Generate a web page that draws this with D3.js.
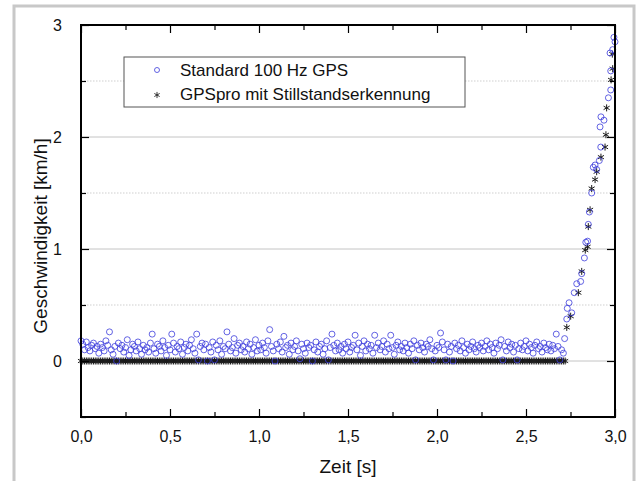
<!DOCTYPE html>
<html>
<head>
<meta charset="utf-8">
<script src="https://cdn.jsdelivr.net/npm/d3@7"></script>
<style>
  html, body { margin: 0; padding: 0; background: #fff; }
  svg { display: block; font-family: "Liberation Sans", Arial, sans-serif; }
</style>
</head>
<body>
<svg id="chart" width="641" height="481"></svg>
<script>
// ---------------- DATA ----------------
const sampleRate = 100; // Hz
const xTickValues = [0, 0.5, 1, 1.5, 2, 2.5, 3];
const xTickLabels = ["0,0", "0,5", "1,0", "1,5", "2,0", "2,5", "3,0"];
const yTickValues = [0, 1, 2, 3];
const yTickLabels = ["0", "1", "2", "3"];
const seriesNames = ["Standard 100 Hz GPS", "GPSpro mit Stillstandserkennung"];

// Standard GPS while standing still (samples at 100 Hz, t = i / 100)
const gpsStill = [
  .18,.15,.10,.17,.12,.09,.14,.16,.11,.13,
  .07,.15,.12,.09,.18,.14,.26,.10,.06,.13,
  .00,.16,.11,.14,.08,.12,.19,.05,.10,.15,
  .13,.09,.17,.11,.06,.14,.10,.12,.08,.16,
  .24,.11,.07,.15,.13,.09,.18,.12,.05,.14,
  .10,.24,.16,.08,.13,.11,.17,.06,.12,.15,
  .09,.14,.19,.11,.07,.24,.01,.13,.16,.10,
  .15,.00,.12,.08,.17,.01,.14,.10,.18,.06,
  .13,.11,.26,.15,.09,.12,.20,.07,.14,.16,
  .10,.13,.08,.17,.11,.15,.06,.12,.19,.09,
  .14,.10,.16,.12,.07,.18,.28,.13,.09,.00,
  .15,.11,.17,.08,.22,.12,.14,.06,.16,.10,
  .13,.18,.09,.02,.15,.11,.07,.16,.12,.14,
  .00,.10,.17,.08,.13,.15,.06,.11,.18,.01,
  .12,.24,.14,.09,.16,.10,.13,.07,.15,.11,
  .17,.08,.12,.14,.23,.10,.16,.05,.13,.18,
  .09,.15,.11,.14,.07,.23,.12,.16,.10,.13,
  .18,.08,.15,.11,.23,.12,.06,.14,.17,.10,
  .13,.09,.16,.12,.07,.15,.11,.18,.01,.14,
  .10,.16,.12,.08,.15,.13,.19,.11,.01,.09,
  .14,.12,.25,.17,.10,.01,.15,.08,.13,.00,
  .16,.11,.14,.09,.18,.12,.07,.15,.10,.13,
  .17,.11,.08,.14,.12,.16,.09,.13,.18,.10,
  .15,.12,.07,.16,.11,.14,.19,.01,.13,.09,
  .17,.12,.15,.08,.14,.01,.11,.16,.10,.13,
  .18,.09,.15,.12,.07,.14,.17,.11,.13,.08,
  .16,.12,.10,.15,.09,.14,.11,.24,.13,.01,
  .10,.07
];

// Standard GPS while accelerating: [time s, speed km/h]
const gpsRise = [
  [2.717,0.20],[2.729,0.375],[2.732,0.47],[2.742,0.52],[2.757,0.43],
  [2.771,0.61],[2.785,0.69],[2.807,0.71],[2.813,0.78],[2.828,0.92],
  [2.836,1.06],[2.846,1.07],[2.850,1.22],[2.856,1.33],[2.869,1.50],
  [2.878,1.73],[2.888,1.75],[2.897,1.71],[2.912,1.79],[2.920,1.91],
  [2.916,2.09],[2.921,2.18],[2.938,2.15],[2.963,2.35],[2.976,2.42],
  [2.976,2.59],[2.972,2.75],[2.987,2.78],[2.994,2.89],[3.000,2.85]
];

// GPSpro with standstill detection while standing still (t = i / 100)
const proStill = [
  0,0,0,0,0,0,0,0,0,0, 0,0,0,0,0,0,0,0,0,0, 0,0,0,0,0,0,0,0,0,0,
  0,0,0,0,0,0,0,0,0,0, 0,0,0,0,0,0,0,0,0,0, 0,0,0,0,0,0,0,0,0,0,
  0,0,0,0,0,0,0,0,0,0, 0,0,0,0,0,0,0,0,0,0, 0,0,0,0,0,0,0,0,0,0,
  0,0,0,0,0,0,0,0,0,0, 0,0,0,0,0,0,0,0,0,0, 0,0,0,0,0,0,0,0,0,0,
  0,0,0,0,0,0,0,0,0,0, 0,0,0,0,0,0,0,0,0,0, 0,0,0,0,0,0,0,0,0,0,
  0,0,0,0,0,0,0,0,0,0, 0,0,0,0,0,0,0,0,0,0, 0,0,0,0,0,0,0,0,0,0,
  0,0,0,0,0,0,0,0,0,0, 0,0,0,0,0,0,0,0,0,0, 0,0,0,0,0,0,0,0,0,0,
  0,0,0,0,0,0,0,0,0,0, 0,0,0,0,0,0,0,0,0,0, 0,0,0,0,0,0,0,0,0,0,
  0,0,0,0,0,0,0,0,0,0, 0,0,0,0,0,0,0,0,0,0, 0,0,0,0,0,0,0,0,0,0,
  0,0,0
];

// GPSpro while accelerating: [time s, speed km/h]
const proRise = [
  [2.729,0.30],[2.751,0.40],[2.794,0.61],[2.813,0.80],[2.833,0.99],
  [2.846,1.02],[2.850,1.20],[2.860,1.35],[2.869,1.54],[2.888,1.62],
  [2.897,1.69],[2.921,1.82],[2.944,1.91],[2.949,2.02],[2.953,2.26],
  [2.978,2.51],[2.987,2.61],[2.985,2.74]
];

// ---------------- CHART ----------------
(function () {
const svg = d3.select("#chart");
const W = 641, H = 481;
const plot = { left: 81, right: 615, top: 25, bottom: 417 };

svg.append("rect").attr("width", W).attr("height", H).attr("fill", "#fff");
// outer light-grey frame
svg.append("rect").attr("x", 14).attr("y", 6).attr("width", 620).attr("height", 492)
  .attr("fill", "none").attr("stroke", "#c8c8c8").attr("stroke-width", 3);

const x = d3.scaleLinear().domain([0, 3]).range([plot.left, plot.right]);
const y = d3.scaleLinear().domain([-0.5, 3]).range([plot.bottom, plot.top]);

// grid lines
const g = svg.append("g");
g.selectAll("line.major").data([0, 1, 2]).join("line").attr("class", "major")
  .attr("x1", plot.left).attr("x2", plot.right)
  .attr("y1", d => y(d)).attr("y2", d => y(d))
  .attr("stroke", "#c4c4c4").attr("stroke-width", 1);
g.selectAll("line.minor").data([0.5, 1.5, 2.5]).join("line").attr("class", "minor")
  .attr("x1", plot.left).attr("x2", plot.right)
  .attr("y1", d => y(d)).attr("y2", d => y(d))
  .attr("stroke", "#cfcfcf").attr("stroke-width", 1).attr("stroke-dasharray", "1.5,1.5");

const plotG = svg.append("g");

// GPSpro asterisks
const proPts = proStill.map((v, i) => [i / sampleRate, v]).concat(proRise);
const star = d3.symbol().type(d3.symbolAsterisk).size(34);
plotG.append("g").selectAll("path").data(proPts).join("path")
  .attr("d", star)
  .attr("transform", d => `translate(${x(d[0])},${y(d[1])})`)
  .attr("fill", "none").attr("stroke", "#1a1a1a").attr("stroke-width", 1);

// Standard GPS circles
const gpsPts = gpsStill.map((v, i) => [i / sampleRate, v]).concat(gpsRise);
plotG.append("g").selectAll("circle").data(gpsPts).join("circle")
  .attr("cx", d => x(d[0])).attr("cy", d => y(d[1])).attr("r", 3)
  .attr("fill", "none").attr("stroke", "#3c3cdc").attr("stroke-width", 0.8);

// axes
const minorX = [0.25, 0.75, 1.25, 1.75, 2.25, 2.75];
const minorY = [-0.5, 0.5, 1.5, 2.5];
svg.append("g").attr("transform", `translate(0,${plot.bottom})`)
  .call(d3.axisBottom(x).tickValues(xTickValues).tickSize(-8)
    .tickFormat((d, i) => xTickLabels[i]).tickPadding(14));
svg.append("g").attr("transform", `translate(0,${plot.bottom})`)
  .call(d3.axisBottom(x).tickValues(minorX).tickSize(-5).tickFormat(""));
svg.append("g").attr("transform", `translate(0,${plot.top})`)
  .call(d3.axisTop(x).tickValues(xTickValues).tickSize(-8).tickFormat(""));
svg.append("g").attr("transform", `translate(0,${plot.top})`)
  .call(d3.axisTop(x).tickValues(minorX).tickSize(-5).tickFormat(""));
svg.append("g").attr("transform", `translate(${plot.left},0)`)
  .call(d3.axisLeft(y).tickValues(yTickValues).tickSize(-8)
    .tickFormat((d, i) => yTickLabels[i]).tickPadding(19));
svg.append("g").attr("transform", `translate(${plot.left},0)`)
  .call(d3.axisLeft(y).tickValues(minorY).tickSize(-5).tickFormat(""));
svg.append("g").attr("transform", `translate(${plot.right},0)`)
  .call(d3.axisRight(y).tickValues(yTickValues).tickSize(-8).tickFormat(""));
svg.append("g").attr("transform", `translate(${plot.right},0)`)
  .call(d3.axisRight(y).tickValues(minorY).tickSize(-5).tickFormat(""));

svg.selectAll(".domain").remove();
svg.selectAll(".tick line").attr("stroke", "#000").attr("stroke-width", 1.2);
svg.selectAll(".tick text").attr("fill", "#111")
  .style("font-family", '"Liberation Sans", Arial, sans-serif').style("font-size", "16px");

// frame of plot
svg.append("rect").attr("x", plot.left).attr("y", plot.top)
  .attr("width", plot.right - plot.left).attr("height", plot.bottom - plot.top)
  .attr("fill", "none").attr("stroke", "#000").attr("stroke-width", 2);

// axis titles
svg.append("text").attr("x", (plot.left + plot.right) / 2).attr("y", 473)
  .attr("text-anchor", "middle").attr("font-size", 19).attr("fill", "#111").text("Zeit [s]");
svg.append("text").attr("transform", `translate(47,236) rotate(-90)`)
  .attr("text-anchor", "middle").attr("font-size", 19).attr("fill", "#111")
  .text("Geschwindigkeit [km/h]");

// legend
const lg = svg.append("g");
lg.append("rect").attr("x", 124).attr("y", 57).attr("width", 341).attr("height", 50)
  .attr("fill", "#fff").attr("stroke", "#555").attr("stroke-width", 1);
lg.append("circle").attr("cx", 157).attr("cy", 70).attr("r", 2.5)
  .attr("fill", "none").attr("stroke", "#3c3cdc").attr("stroke-width", 0.8);
lg.append("path").attr("d", d3.symbol().type(d3.symbolAsterisk).size(26)).attr("transform", "translate(157,95)")
  .attr("fill", "none").attr("stroke", "#222").attr("stroke-width", 0.9);
lg.selectAll("text").data(seriesNames).join("text")
  .attr("x", 180).attr("y", (d, i) => 76 + i * 24)
  .attr("font-size", 17).attr("fill", "#111").text(d => d);
})();
</script>
</body>
</html>
